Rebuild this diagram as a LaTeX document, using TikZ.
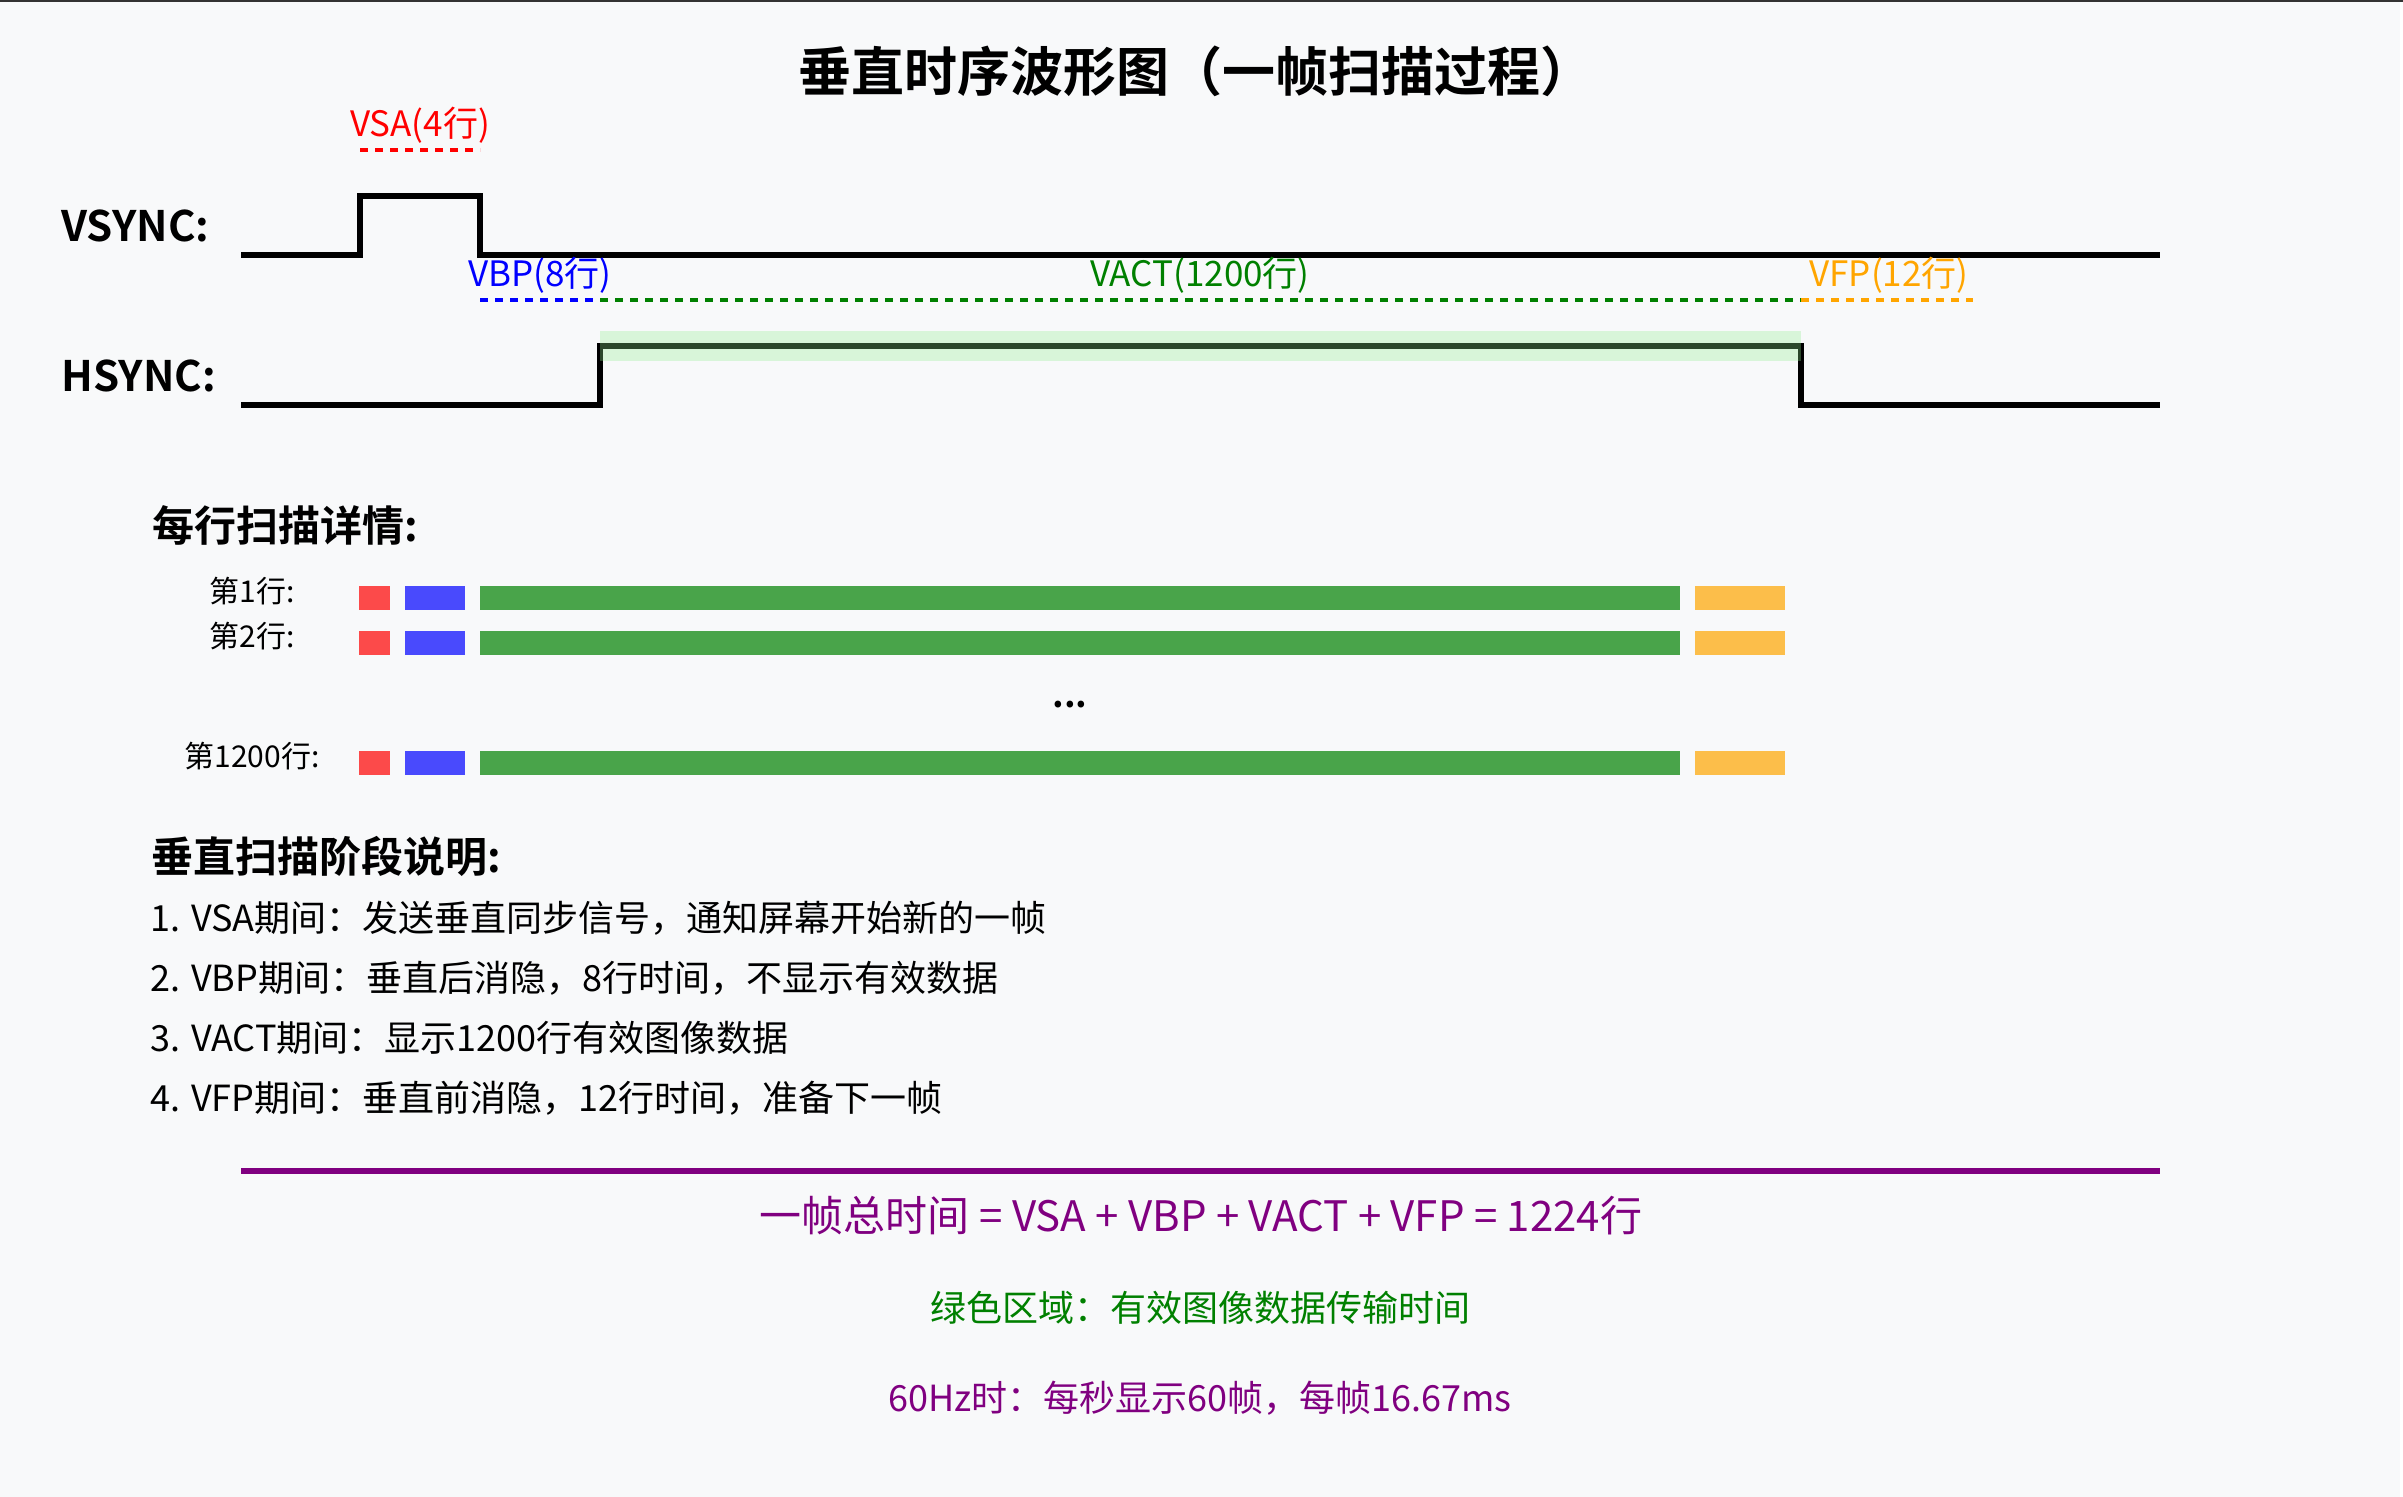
\documentclass[tikz,border=0pt]{standalone}
\usepackage{fontspec}
\setmainfont{Noto Sans CJK SC}[BoldFont={Noto Sans CJK SC Bold}]
\usepackage{tikz}
\usetikzlibrary{positioning}
\definecolor{bg}{HTML}{F8F9FA}
\definecolor{vsared}{HTML}{FF0000}
\definecolor{vbpblue}{HTML}{0000FF}
\definecolor{vactgreen}{HTML}{008000}
\definecolor{vfporange}{HTML}{FFA500}
\definecolor{framepurple}{HTML}{800080}
\definecolor{hilite}{HTML}{90EE90}

\begin{document}
\begin{tikzpicture}[x=0.5pt,y=-0.5pt,
                    wave/.style={line width=2.8pt,line join=miter},
                    phase/.style={line width=1.6pt,dash pattern=on 4pt off 3.5pt},
                    phaselbl/.style={inner sep=0pt,font=\fontsize{17.5}{20}\selectfont},
                    signame/.style={inner sep=0pt,anchor=west,font=\bfseries\fontsize{21}{24}\selectfont},
                    rowlbl/.style={inner sep=0pt,font=\fontsize{15}{18}\selectfont},
                    bar/.style={fill opacity=0.7,draw=none},
                    note/.style={inner sep=0pt,anchor=west,font=\fontsize{18}{22}\selectfont}]

  \useasboundingbox (0,0) rectangle (2403,1497);
  \fill[bg] (0,0) rectangle (2400,1497);
  \draw[line width=1pt,black!80] (0,1) -- (2403,1);

  % title
  \node[inner sep=0pt,font=\bfseries\fontsize{26.5}{32}\selectfont] (title) at (1196,71)
       {垂直时序波形图（一帧扫描过程）};

  % signal names
  \node[signame] (vsync) at (61,226) {VSYNC:};
  \node[signame] (hsync) at (61,376) {HSYNC:};

  % waveforms
  \draw[wave] (241,255) -- (360,255) -- (360,196) -- (480,196) -- (480,255) -- (2160,255);
  \draw[wave] (241,405) -- (600,405) -- (600,346) -- (1801,346) -- (1801,405) -- (2160,405);
  \fill[hilite,opacity=0.3] (600,331) rectangle (1801,361);

  % phase markers
  \draw[phase,vsared]     (360,150) -- (480,150);
  \draw[phase,vbpblue]    (480,300) -- (600,300);
  \draw[phase,vactgreen]  (600,300) -- (1801,300);
  \draw[phase,vfporange]  (1801,300) -- (1973,300);
  \node[phaselbl,text=vsared]     (vsa)  at (420,125)  {VSA(4行)};
  \node[phaselbl,text=vbpblue]    (vbp)  at (540,275)  {VBP(8行)};
  \node[phaselbl,text=vactgreen]  (vact) at (1200,275) {VACT(1200行)};
  \node[phaselbl,text=vfporange]  (vfp)  at (1889,275) {VFP(12行)};

  % per-line detail
  \node[signame] (detail) at (152,525) {每行扫描详情:};
  \foreach \r/\y/\t in {1/598/第1行:, 2/643/第2行:, 3/763/第1200行:} {
    \node[rowlbl] (row\r) at (252,\y-7) {\t};
    \fill[bar,vsared]     (359,\y-12) rectangle (390,\y+12);
    \fill[bar,vbpblue]    (405,\y-12) rectangle (465,\y+12);
    \fill[bar,vactgreen]  (480,\y-12) rectangle (1680,\y+12);
    \fill[bar,vfporange]  (1695,\y-12) rectangle (1785,\y+12);
  }
  \node[inner sep=0pt,font=\bfseries\fontsize{18}{22}\selectfont] (dots) at (1070,705) {...};

  % phase notes
  \node[signame] (phases) at (151,856) {垂直扫描阶段说明:};
  \foreach \y/\t in {918/1. VSA期间：发送垂直同步信号，通知屏幕开始新的一帧,
                     978/2. VBP期间：垂直后消隐，8行时间，不显示有效数据,
                     1038/3. VACT期间：显示1200行有效图像数据,
                     1098/4. VFP期间：垂直前消隐，12行时间，准备下一帧}
    \node[note] at (150,\y) {\t};

  % totals
  \draw[line width=2.6pt,framepurple] (241,1171) -- (2160,1171);
  \node[inner sep=0pt,text=framepurple,font=\fontsize{21}{25}\selectfont] (total) at (1201,1216)
       {一帧总时间 = VSA + VBP + VACT + VFP = 1224行};
  \node[inner sep=0pt,text=vactgreen,font=\fontsize{18}{22}\selectfont] (green) at (1200,1308)
       {绿色区域：有效图像数据传输时间};
  \node[inner sep=0pt,text=framepurple,font=\fontsize{18}{22}\selectfont] (rate) at (1200,1398)
       {60Hz时：每秒显示60帧，每帧16.67ms};

\end{tikzpicture}
\end{document}
